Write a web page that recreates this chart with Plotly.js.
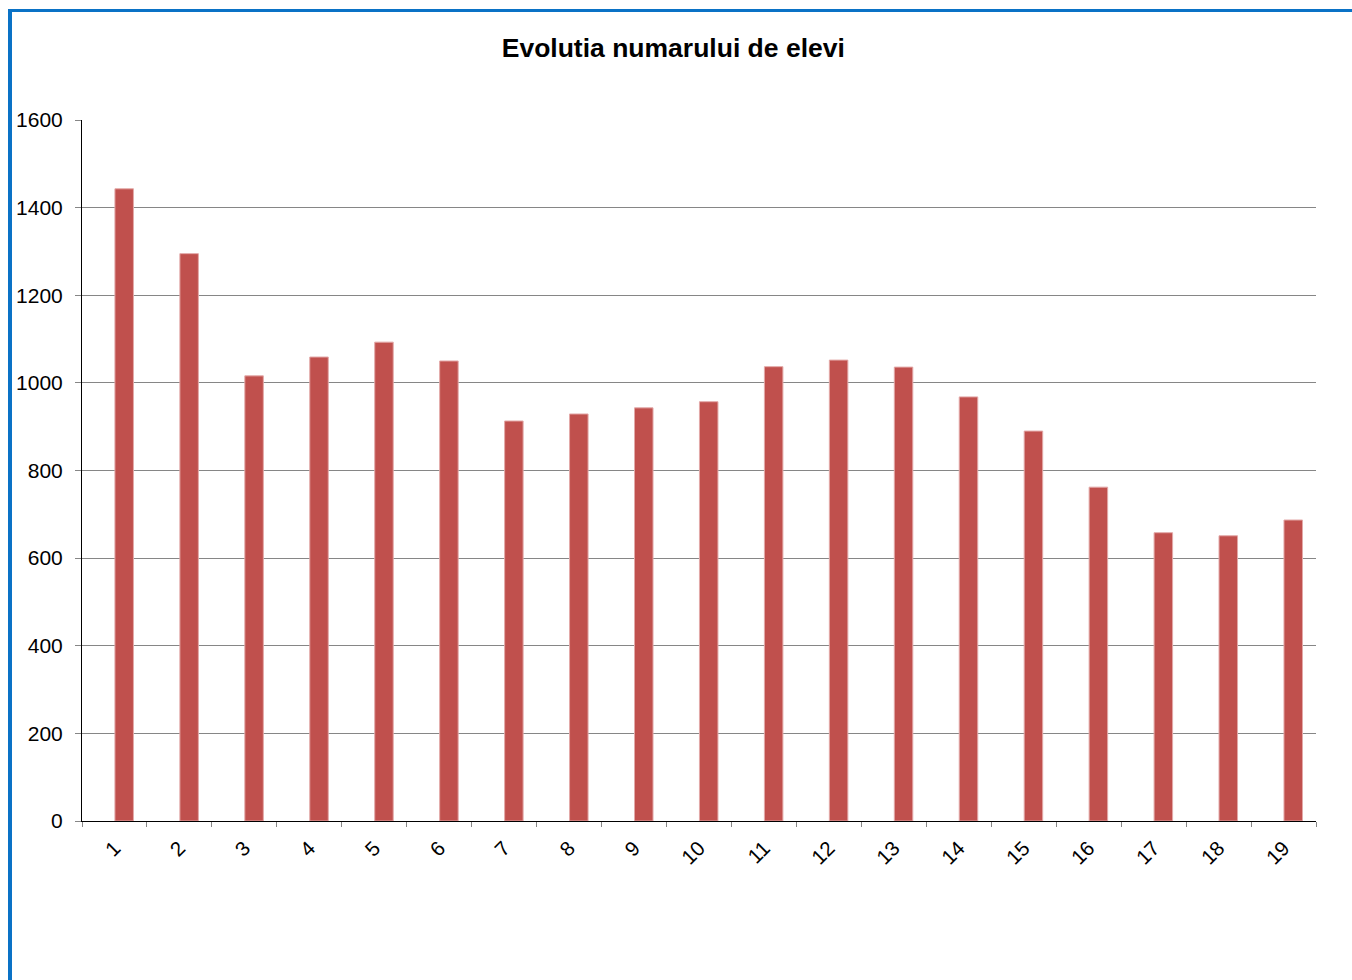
<!DOCTYPE html>
<html>
<head>
<meta charset="utf-8">
<script src="https://cdn.plot.ly/plotly-3.0.1.min.js"></script>
<style>
  html, body { margin: 0; padding: 0; background: #ffffff; }
  #chart { width: 1352px; height: 980px; position: relative; }
  #frame { position: absolute; left: 8px; top: 9px; width: 2000px; height: 2000px;
           border-left: 4px solid #0A72C6; border-top: 3px solid #0A72C6;
           pointer-events: none; z-index: 10; }
</style>
</head>
<body>
<div style="position:relative;width:1352px;height:980px;overflow:hidden;">
  <div id="chart"></div>
  <div id="frame"></div>
</div>
<script>
var categories = ['1','2','3','4','5','6','7','8','9','10','11','12','13','14','15','16','17','18','19'];
var elevi = [1443, 1295, 1016, 1059, 1093, 1050, 913, 929, 943, 957, 1037, 1052, 1036, 968, 890, 762, 658, 651, 687];
var yTicks = [0, 200, 400, 600, 800, 1000, 1200, 1400, 1600];
var chartTitle = 'Evolutia numarului de elevi';

var trace = {
  type: 'bar',
  x: categories,
  y: elevi,
  width: 0.285,
  offset: 0.007,
  marker: { color: '#C0504D', line: { color: '#E3A9A8', width: 1 } },
  hoverinfo: 'x+y'
};

var layout = {
  width: 1352,
  height: 980,
  margin: { l: 82, r: 36, t: 120, b: 159 },
  paper_bgcolor: '#ffffff',
  plot_bgcolor: '#ffffff',
  font: { family: 'Liberation Sans, Arial, sans-serif', color: '#000000' },
  title: {
    text: '<b>' + chartTitle + '</b>',
    font: { size: 26.5, family: 'Liberation Sans, Arial, sans-serif', color: '#000000' },
    x: 0.498, xref: 'container', xanchor: 'center',
    y: 1 - 48 / 980, yref: 'container', yanchor: 'middle'
  },
  showlegend: false,
  xaxis: {
    type: 'category',
    tickson: 'boundaries',
    ticks: 'outside',
    ticklen: 5,
    tickcolor: '#868686',
    tickwidth: 1,
    tickangle: -45,
    tickfont: { size: 20.5 },
    ticklabelstandoff: 6,
    showline: true,
    linecolor: '#000000',
    linewidth: 1,
    showgrid: false,
    zeroline: false,
    fixedrange: true
  },
  yaxis: {
    range: [0, 1600],
    tickvals: yTicks,
    ticktext: yTicks.map(String),
    ticks: 'outside',
    ticklen: 6,
    tickcolor: '#868686',
    tickfont: { size: 21 },
    ticklabelstandoff: 8,
    showline: true,
    linecolor: '#000000',
    linewidth: 1,
    showgrid: true,
    gridcolor: '#868686',
    gridwidth: 1,
    zeroline: false,
    fixedrange: true
  }
};

Plotly.newPlot('chart', [trace], layout, { displayModeBar: false, staticPlot: true });
</script>
</body>
</html>
